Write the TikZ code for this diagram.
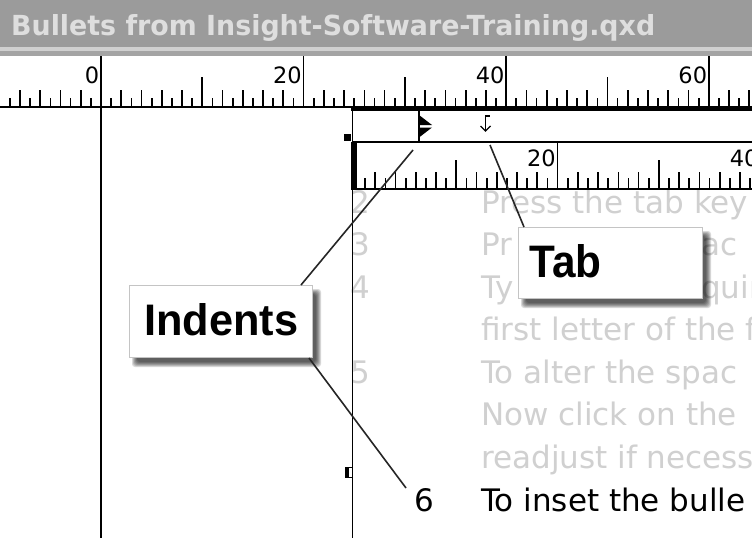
\documentclass[tikz,border=0pt]{standalone}
\usepackage{fontspec}
\usepackage{graphicx}
\newfontfamily\djv{DejaVu Sans}
\newfontfamily\lib{Liberation Sans}
\definecolor{titlegray}{HTML}{9B9B9B}
\definecolor{titletext}{HTML}{DEDEDE}
\definecolor{stripelight}{HTML}{D0D0D0}
\definecolor{stripegray}{HTML}{A4A4A4}
\definecolor{ghost}{HTML}{D0D0D0}
\definecolor{boxborder}{HTML}{C4C4C4}
\tikzset{
  ghosttext/.style={anchor=base west, inner sep=0pt, text=ghost, font=\djv\fontsize{31}{31}\selectfont},
  blacktext/.style={anchor=base west, inner sep=0pt, text=black, font=\djv\fontsize{31}{31}\selectfont},
  rulenum/.style={anchor=base east, inner sep=0pt, font=\djv\fontsize{22.5}{22.5}\selectfont},
  tickline/.style={line width=1.7pt},
  conn/.style={line width=1.6pt, black!85},
  labelbox/.style={draw=boxborder, fill=white, line width=1pt, inner sep=0pt, anchor=north west},
  shadowlayer/.style={fill=black, opacity=0.15, rounded corners=3pt}
}
\begin{document}
\begin{tikzpicture}[x=1pt,y=-1pt]
\path[use as bounding box] (0,0) rectangle (752,538);
\clip (0,0) rectangle (752,538);
\fill[white] (0,0) rectangle (752,538);

% ---- list text ----
\node[ghosttext] (n2) at (350,213) {2};
\node[ghosttext] (l2) at (481,213) {Press the tab key};
\node[ghosttext] (n3) at (350,255.6) {3};
\node[ghosttext] (l3a) at (481,255.6) {Pr};
\node[ghosttext] (l3b) at (701,255.6) {ac};
\node[ghosttext] (n4) at (350,298.1) {4};
\node[ghosttext] (l4a) at (481,298.1) {Ty};
\node[ghosttext] (l4b) at (701,298.1) {quir};
\node[ghosttext] (l4c) at (481,340.7) {first letter of the f};
\node[ghosttext] (n5) at (350,383.3) {5};
\node[ghosttext] (l5) at (481,383.3) {To alter the spac};
\node[ghosttext] (l5b) at (481,425.9) {Now click on the};
\node[ghosttext] (l5c) at (481,468.4) {readjust if necess};
\node[blacktext] (n6) at (414,511) {6};
\node[blacktext] (l6) at (481,511) {To inset the bulle};

% ---- title bar ----
\fill[titlegray] (0,0) rectangle (752,47);
\fill[stripelight] (0,47) rectangle (752,50.5);
\fill[stripegray] (0,50.5) rectangle (752,56);
\node[anchor=base west, inner sep=0pt, text=titletext] (title) at (11,35)
  {\resizebox{644pt}{21pt}{\djv\bfseries Bullets from Insight-Software-Training.qxd}};

% ---- top ruler ----
\fill[white] (0,56) rectangle (752,107);
\foreach \k in {-9,...,64}{
  \pgfmathsetmacro\xx{101+10.13*\k}
  \pgfmathtruncatemacro\mten{mod(abs(\k),10)}
  \pgfmathtruncatemacro\mtwo{mod(abs(\k),2)}
  \pgfmathtruncatemacro\mtw{mod(abs(\k),20)}
  \ifnum\mtw=0 \def\ytop{56}\else\ifnum\mten=0 \def\ytop{77}\else\ifnum\mtwo=0 \def\ytop{90}\else\def\ytop{98}\fi\fi\fi
  \draw[tickline] (\xx,\ytop) -- (\xx,107);
}
\node[rulenum] (r0) at (99.5,83) {0};
\node[rulenum] (r20) at (302,83) {20};
\node[rulenum] (r40) at (504.7,83) {40};
\node[rulenum] (r60) at (707.3,83) {60};
\draw[line width=2.4pt] (0,107) -- (752,107);

% ---- text box header ----
\fill[white] (352,108) rectangle (752,190);
\draw[line width=3.2pt] (351,109.6) -- (752,109.6);
\draw[line width=1.6pt] (352,142) -- (752,142);
\draw[line width=1.3pt] (419,110) -- (419,142);
\draw[line width=1.5pt] (352.5,108) -- (352.5,142);
\fill (419,115) -- (432,125) -- (419,125) -- cycle;
\fill (419,127.5) -- (432,127.5) -- (419,137.5) -- cycle;
% tab stop marker
\node[inner sep=0pt, minimum size=14pt] (tabmark) at (486,124) {};
\draw[line width=1.4pt] (485.5,116) -- (485.5,131);
\draw[line width=1.4pt] (485,116) -- (490,116);
\draw[line width=1.4pt] (480.5,126) -- (485.5,131) -- (490.5,126);
% inner ruler ticks
\foreach \k in {1,...,39}{
  \pgfmathsetmacro\xx{355+10.13*\k}
  \pgfmathtruncatemacro\mten{mod(\k,10)}
  \pgfmathtruncatemacro\mtwo{mod(\k,2)}
  \pgfmathtruncatemacro\mtw{mod(\k,20)}
  \ifnum\mtw=0 \def\ytop{142}\else\ifnum\mten=0 \def\ytop{160}\else\ifnum\mtwo=0 \def\ytop{172}\else\def\ytop{178}\fi\fi\fi
  \draw[tickline] (\xx,\ytop) -- (\xx,189);
}
\node[rulenum] (i20) at (556,166.5) {20};
\node[rulenum] (i40) at (758.6,166.5) {40};
\draw[line width=2.8pt] (352,189) -- (752,189);
\fill (351,142) rectangle (357,190.3);

% ---- vertical guides ----
\draw[line width=1.6pt] (101,56) -- (101,538);
\draw[line width=1.6pt] (352.5,190) -- (352.5,538);
% handles
\fill (344,134) rectangle (350.5,141);
\filldraw[fill=white, line width=0.8pt] (345,467) rectangle (352,477);
\fill (345,467) rectangle (349,477);

% ---- connector end points ----
\coordinate (tabfoot) at (490,145);
\coordinate (indmark) at (413,150);
\coordinate (sixpt) at (406,488);

% ---- label boxes ----
\foreach \s in {0,...,5}{
  \fill[shadowlayer] (518+3+\s,227+4+\s) rectangle (702+9-\s,298+10-\s);
  \fill[shadowlayer] (129+3+\s,285+4+\s) rectangle (312+9-\s,357+10-\s);
}
\node[labelbox, minimum width=184pt, minimum height=71pt] (tabbox) at (518,227) {};
\node[labelbox, minimum width=183pt, minimum height=72pt] (indbox) at (129,285) {};
\draw[conn] (tabfoot) -- ([xshift=6pt]tabbox.north west);
\draw[conn] (indmark) -- ([xshift=-12pt]indbox.north east);
\draw[conn] ([xshift=-4pt]indbox.south east) -- (sixpt);
\node[anchor=base west, inner sep=0pt] (tabtext) at (529.5,277)
  {\resizebox{72pt}{33pt}{\lib\bfseries Tab}};
\node[anchor=base west, inner sep=0pt] (indtext) at (144,335)
  {\resizebox{154pt}{32pt}{\lib\bfseries Indents}};
\end{tikzpicture}
\end{document}
